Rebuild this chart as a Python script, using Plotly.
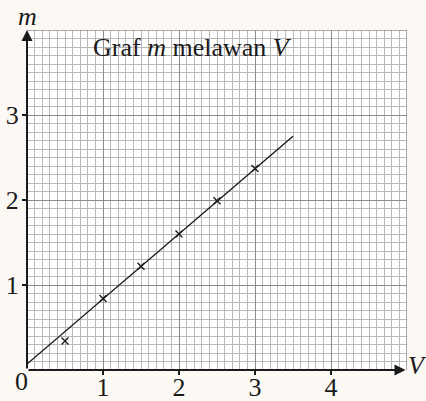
import plotly.graph_objects as go

# Measured points of m against V
V = [0.5, 1.0, 1.5, 2.0, 2.5, 3.0]
m = [0.34, 0.84, 1.22, 1.60, 1.99, 2.37]

# Line of best fit, drawn across the data
fit_V = [0.0, 3.5]
fit_m = [0.07, 2.75]

x_ticks = [1, 2, 3, 4]
y_ticks = [1, 2, 3]

SERIF = "Liberation Serif, Times New Roman, serif"
INK = "#1a1a1a"
MINOR = "#b8b8b8"
MAJOR = "#8c8c8c"

fig = go.Figure()

fig.add_trace(go.Scatter(
    x=fit_V, y=fit_m, mode="lines",
    line=dict(color=INK, width=1.4),
    hoverinfo="skip", showlegend=False,
))
fig.add_trace(go.Scatter(
    x=V, y=m, mode="markers",
    marker=dict(symbol="x-thin", size=7, line=dict(color=INK, width=1.4)),
    showlegend=False,
))

axis_common = dict(
    showgrid=True, gridcolor=MAJOR, gridwidth=1.2,
    zeroline=False, showline=False, automargin=False,
    ticks="outside", ticklen=4, tickwidth=2, tickcolor=INK,
    tickfont=dict(family=SERIF, size=26, color=INK),
)

fig.update_xaxes(
    range=[0, 5], tickvals=x_ticks, ticktext=[str(t) for t in x_ticks],
    ticklabelstandoff=-10,
    minor=dict(dtick=0.1, showgrid=True, gridcolor=MINOR, gridwidth=1, ticks=""),
    **axis_common,
)
fig.update_yaxes(
    range=[0, 4], tickvals=y_ticks, ticktext=[str(t) for t in y_ticks],
    ticklabelstandoff=-2,
    minor=dict(dtick=0.1, showgrid=True, gridcolor=MINOR, gridwidth=1, ticks=""),
    **axis_common,
)

# Outer border of the graph paper (top and right)
fig.add_shape(type="line", x0=0, x1=5, y0=4, y1=4, xref="x", yref="y",
              line=dict(color=MAJOR, width=1.5), layer="between")
fig.add_shape(type="line", x0=5, x1=5, y0=0, y1=4, xref="x", yref="y",
              line=dict(color=MAJOR, width=1.5), layer="between")

# Axes drawn as arrows
for tip, tail in [((4.98, 0), (0, 0)), ((0, 4.0), (0, 0))]:
    fig.add_annotation(
        x=tip[0], y=tip[1], ax=tail[0], ay=tail[1],
        xref="x", yref="y", axref="x", ayref="y",
        text="", showarrow=True, arrowhead=2, arrowsize=1.1,
        arrowwidth=2, arrowcolor=INK, standoff=0, startstandoff=0,
    )

text_font = dict(family=SERIF, size=26, color=INK)
centred = dict(xref="paper", yref="paper", xanchor="center", yanchor="middle",
               showarrow=False, font=text_font)

fig.add_annotation(x=-0.014, y=-0.035, text="0", **centred)
fig.add_annotation(x=0.0, y=1.04, text="<i>m</i>", **centred)
fig.add_annotation(x=1.028, y=0.012, text="<i>V</i>", **centred)
fig.add_annotation(x=2.18, y=3.8, xref="x", yref="y",
                   text="Graf <i>m</i> melawan <i>V</i>",
                   showarrow=False, font=dict(family=SERIF, size=26, color=INK))

fig.update_layout(
    width=426, height=401,
    margin=dict(l=27, r=19, t=30, b=31),
    paper_bgcolor="#fcf9f4",
    plot_bgcolor="#ffffff",
    showlegend=False,
)

fig.write_html("out.html")
